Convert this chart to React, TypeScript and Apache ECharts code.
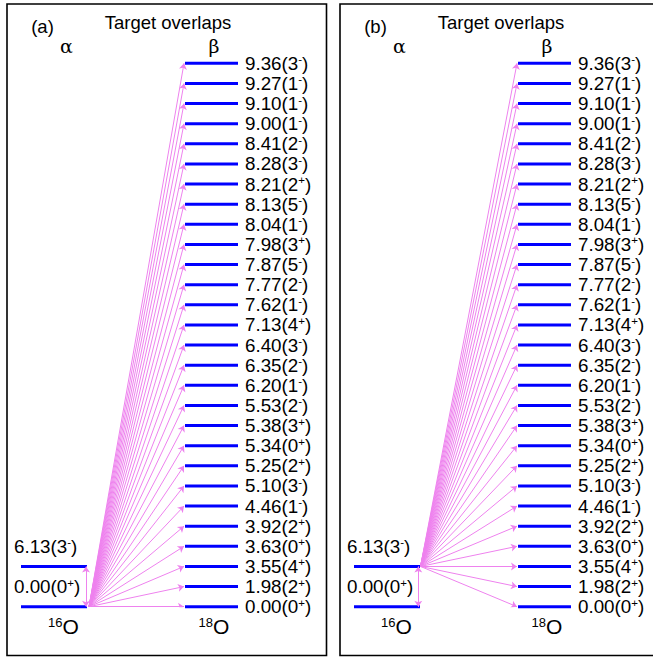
import React, { useEffect, useRef } from 'react';
import * as echarts from 'echarts';

// ---- data ----
const BETA_ENERGY = ['0.00', '1.98', '3.55', '3.63', '3.92', '4.46', '5.10', '5.25', '5.34', '5.38', '5.53', '6.20', '6.35', '6.40', '7.13', '7.62', '7.77', '7.87', '7.98', '8.04', '8.13', '8.21', '8.28', '8.41', '9.00', '9.10', '9.27', '9.36'];
const BETA_JPI = ['0+', '2+', '4+', '0+', '2+', '1-', '3-', '2+', '0+', '3+', '2-', '1-', '2-', '3-', '4+', '1-', '2-', '5-', '3+', '1-', '5-', '2+', '3-', '2-', '1-', '1-', '1-', '3-'];
const ALPHA_ENERGY = ['0.00', '6.13'];
const ALPHA_JPI = ['0+', '3-'];
const ALPHA_ROW = [0, 2];
const PANEL_TAGS = ['(a)', '(b)'];
const TITLE = 'Target overlaps';
const NUCLEI = [{ mass: '16', sym: 'O' }, { mass: '18', sym: 'O' }];

// ---- layout ----
const FONT = '"Liberation Sans", Arial, Helvetica, sans-serif';
const PANEL_OFFSET = [0, 333];
const GRID_LEFT = 21;
const GRID_TOP = 63.3;
const GRID_W = 217;
const GRID_H = 543.4;
const ALPHA_LINE = [0, 66];
const BETA_LINE = [164, 217];
const ARROW_TIP_X = 163;
const FAN_ORIGIN = [[68, 0], [66.5, 2]];
const VERT_X = [65, 64.3];
const NUC_X = [42.5, 193];
const VIOLET = '#ee82ee';
const BLUE = '#0000ff';

const RICH = {
  m: { fontSize: 18.8, lineHeight: 20, fontFamily: FONT },
  s: { fontSize: 11.5, lineHeight: 11, verticalAlign: 'top', fontFamily: FONT },
};
const NUC_RICH = {
  n: { fontSize: 21, lineHeight: 22, fontFamily: FONT },
  s: { fontSize: 13, lineHeight: 13, verticalAlign: 'top', fontFamily: FONT },
};

function levelLabel(e: string, jpi: string) {
  const spin = jpi.slice(0, -1);
  const par = jpi.slice(-1);
  return `{m|${e}(${spin}}{s|${par}}{m|)}`;
}

function buildOption() {
  const grid: any[] = [];
  const xAxis: any[] = [];
  const yAxis: any[] = [];
  const series: any[] = [];
  const graphic: any[] = [];

  PANEL_OFFSET.forEach((off, p) => {
    grid.push({ left: GRID_LEFT + off, top: GRID_TOP, width: GRID_W, height: GRID_H, containLabel: false });
    xAxis.push({ type: 'value', gridIndex: p, min: 0, max: GRID_W, show: false });
    yAxis.push({ type: 'value', gridIndex: p, min: 0, max: BETA_ENERGY.length - 1, show: false });

    // arrows (fan)
    const fanData = BETA_ENERGY.map((_, i) => ({ coords: [FAN_ORIGIN[p], [ARROW_TIP_X, i]] }));
    series.push({
      type: 'lines',
      coordinateSystem: 'cartesian2d',
      xAxisIndex: p,
      yAxisIndex: p,
      symbol: ['none', 'arrow'],
      symbolSize: 6,
      silent: true,
      z: 3,
      lineStyle: { color: VIOLET, width: 1, opacity: 1, curveness: 0 },
      data: fanData,
    });
    // vertical alpha arrow (double-headed)
    series.push({
      type: 'lines',
      coordinateSystem: 'cartesian2d',
      xAxisIndex: p,
      yAxisIndex: p,
      symbol: ['arrow', 'arrow'],
      symbolSize: 6,
      silent: true,
      z: 3,
      lineStyle: { color: VIOLET, width: 1, opacity: 1 },
      data: [{ coords: [[VERT_X[p], ALPHA_ROW[0]], [VERT_X[p], ALPHA_ROW[1]]] }],
    });

    // beta levels
    series.push({
      type: 'custom',
      xAxisIndex: p,
      yAxisIndex: p,
      clip: false,
      silent: true,
      z: 2,
      data: BETA_ENERGY.map((_, i) => [BETA_LINE[0], i]),
      renderItem: (params: any, api: any) => {
        const i = params.dataIndex;
        const row = api.value(1);
        const p0 = api.coord([BETA_LINE[0], row]);
        const p1 = api.coord([BETA_LINE[1], row]);
        return {
          type: 'group',
          children: [
            { type: 'line', shape: { x1: p0[0], y1: p0[1], x2: p1[0], y2: p1[1] }, style: { stroke: BLUE, lineWidth: 3 } },
            {
              type: 'text', x: p1[0] + 7, y: p1[1],
              style: { text: levelLabel(BETA_ENERGY[i], BETA_JPI[i]), rich: RICH, fill: '#000', align: 'left', verticalAlign: 'middle', fontSize: 18.8, fontFamily: FONT },
            },
          ],
        };
      },
    });

    // alpha levels
    series.push({
      type: 'custom',
      xAxisIndex: p,
      yAxisIndex: p,
      clip: false,
      silent: true,
      z: 2,
      data: ALPHA_ENERGY.map((_, i) => [ALPHA_LINE[0], ALPHA_ROW[i]]),
      renderItem: (params: any, api: any) => {
        const i = params.dataIndex;
        const row = api.value(1);
        const p0 = api.coord([ALPHA_LINE[0], row]);
        const p1 = api.coord([ALPHA_LINE[1], row]);
        const pl = api.coord([ALPHA_LINE[0], row + 1]);
        return {
          type: 'group',
          children: [
            { type: 'line', shape: { x1: p0[0], y1: p0[1], x2: p1[0], y2: p1[1] }, style: { stroke: BLUE, lineWidth: 3 } },
            {
              type: 'text', x: pl[0] - 7, y: pl[1],
              style: { text: levelLabel(ALPHA_ENERGY[i], ALPHA_JPI[i]), rich: RICH, fill: '#000', align: 'left', verticalAlign: 'middle', fontSize: 18.8, fontFamily: FONT },
            },
          ],
        };
      },
    });

    // nucleus labels
    series.push({
      type: 'custom',
      xAxisIndex: p,
      yAxisIndex: p,
      clip: false,
      silent: true,
      data: NUCLEI.map((_, k) => [NUC_X[k], -1]),
      renderItem: (params: any, api: any) => {
        const k = params.dataIndex;
        const pt = api.coord([api.value(0), api.value(1)]);
        return {
          type: 'text', x: pt[0], y: pt[1],
          style: { text: `{s|${NUCLEI[k].mass}}{n|${NUCLEI[k].sym}}`, rich: NUC_RICH, fill: '#000', align: 'center', verticalAlign: 'middle', fontSize: 21, fontFamily: FONT },
        };
      },
    });

    // panel frame and headings
    graphic.push({
      type: 'rect', shape: { x: 7 + off, y: 4, width: 319.5, height: 651.5 },
      style: { fill: 'none', stroke: '#000', lineWidth: 1.6 }, silent: true,
    });
    graphic.push({ type: 'text', x: 42.5 + off, y: 26, style: { text: PANEL_TAGS[p], fontSize: 18.5, fontFamily: FONT, fill: '#000', align: 'center', verticalAlign: 'middle' } });
    graphic.push({ type: 'text', x: 168 + off, y: 22, style: { text: TITLE, fontSize: 18.5, fontFamily: FONT, fill: '#000', align: 'center', verticalAlign: 'middle' } });
    graphic.push({ type: 'text', x: 66.5 + off, y: 46, style: { text: 'α', fontSize: 19, fontFamily: '"DejaVu Serif", serif', fill: '#000', align: 'center', verticalAlign: 'middle' } });
    graphic.push({ type: 'text', x: 214 + off, y: 46, style: { text: 'β', fontSize: 19, fontFamily: '"DejaVu Serif", serif', fill: '#000', align: 'center', verticalAlign: 'middle' } });
  });

  return { animation: false, backgroundColor: '#fff', grid, xAxis, yAxis, series, graphic };
}

export default function App() {
  const ref = useRef<HTMLDivElement>(null);
  useEffect(() => {
    if (!ref.current) return;
    const chart = echarts.init(ref.current, undefined, { renderer: 'svg' });
    chart.setOption(buildOption() as any);
    return () => chart.dispose();
  }, []);
  return <div ref={ref} style={{ position: 'absolute', left: 0, top: 0, width: 653, height: 657 }} />;
}
